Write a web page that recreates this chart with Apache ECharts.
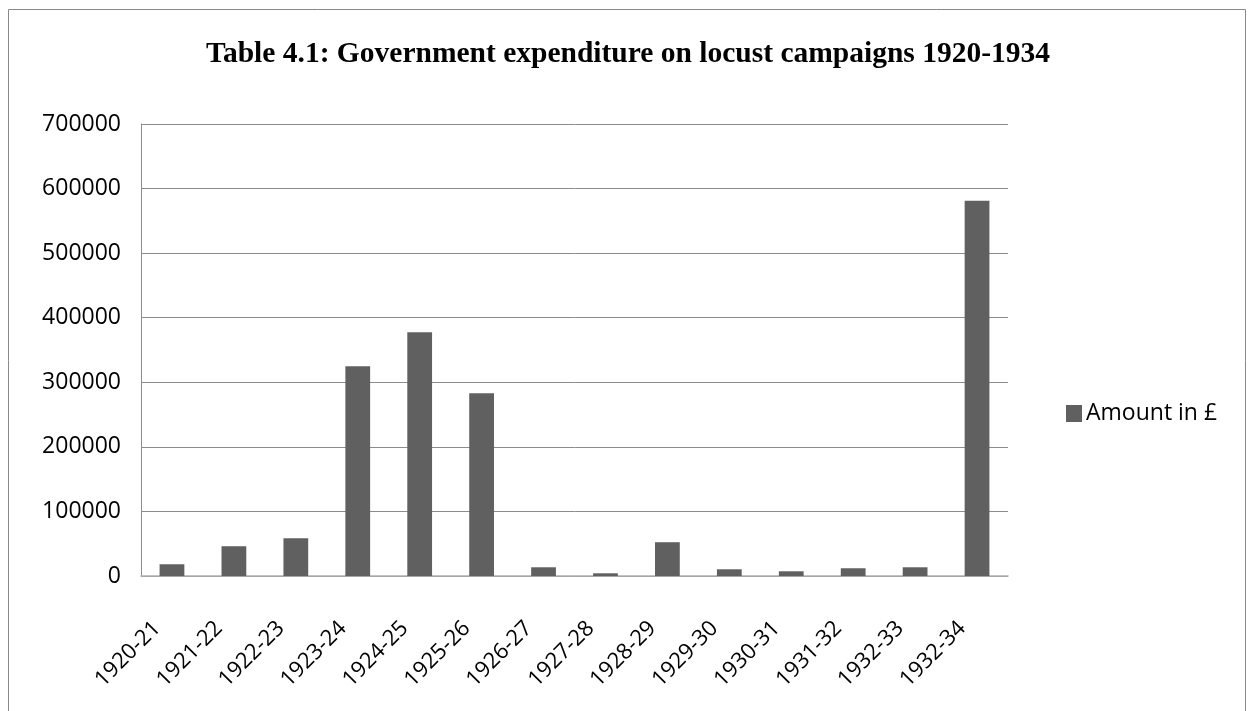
<!DOCTYPE html>
<html><head><meta charset="utf-8">
<script src="https://cdn.jsdelivr.net/npm/echarts@6/dist/echarts.min.js"></script>
<style>html,body{margin:0;padding:0;background:#fff}#c{width:1250px;height:711px}</style>
</head><body><div id="c"></div>
<script>
const categories = ['1920-21','1921-22','1922-23','1923-24','1924-25','1925-26','1926-27','1927-28','1928-29','1929-30','1930-31','1931-32','1932-33','1932-34'];
const amounts = [18200, 46100, 58500, 324700, 377300, 283000, 13500, 4200, 52300, 10400, 7300, 12000, 13500, 581000];
const seriesName = 'Amount in £';
const titleText = 'Table 4.1: Government expenditure on locust campaigns 1920-1934';

const chart = echarts.init(document.getElementById('c'), null, {renderer:'canvas'});
chart.setOption({
  animation: false,
  backgroundColor: '#fff',
  graphic: [{type:'rect', shape:{x:8.5, y:9.5, width:1237, height:720}, style:{fill:null, stroke:'#8a8a8a', lineWidth:1}, silent:true}],
  title: {text: titleText, left: 623, top: 34, textAlign:'center',
    textStyle:{fontFamily:'Liberation Serif', fontWeight:'bold', fontSize:29.5, color:'#000'}},
  legend: {data:[seriesName], left: 1061, top: 397, itemWidth:16, itemHeight:17, itemGap:9,
    textStyle:{fontFamily:'Open Sans', fontSize:23, color:'#000', padding:[0,0,0,-1]}, icon:'rect'},
  grid: {left:141, right:242, top:124, bottom:135, containLabel:false},
  xAxis: {type:'category', data: categories,
    axisLine:{lineStyle:{color:'#b0b0b0', width:1.5}}, axisTick:{show:false},
    axisLabel:{rotate:45, margin:34, padding:[0,21,0,0], fontFamily:'Open Sans', fontSize:22, color:'#000', interval:0}},
  yAxis: {type:'value', min:0, max:700000, interval:100000,
    axisLine:{show:true, lineStyle:{color:'#8c8c8c'}}, axisTick:{show:false},
    splitLine:{lineStyle:{color:'#8c8c8c'}},
    axisLabel:{margin:20, fontFamily:'Open Sans', fontSize:23, color:'#000', formatter: v => String(v)}},
  series: [{name: seriesName, type:'bar', data: amounts, barCategoryGap:'60%',
    itemStyle:{color:'#606060'}}]
});
</script></body></html>
